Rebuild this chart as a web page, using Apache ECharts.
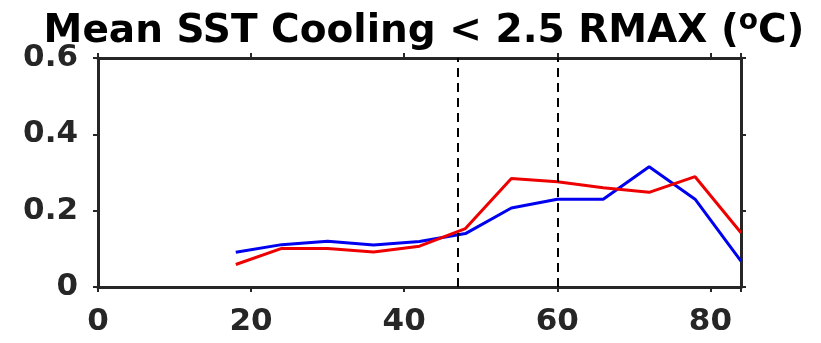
<!DOCTYPE html>
<html><head><meta charset="utf-8">
<script src="https://cdn.jsdelivr.net/npm/echarts@6/dist/echarts.min.js"></script>
<style>html,body{margin:0;padding:0;background:#fff}#c{width:821px;height:343px}</style>
</head><body><div id="c"></div>
<script>
const xValues = [18, 24, 30, 36, 42, 48, 54, 60, 66, 72, 78, 84];
const blueValues = [0.091, 0.111, 0.120, 0.110, 0.119, 0.140, 0.207, 0.230, 0.230, 0.315, 0.230, 0.068];
const redValues = [0.059, 0.101, 0.101, 0.092, 0.107, 0.153, 0.284, 0.276, 0.260, 0.248, 0.289, 0.142];
const dashedX = [47, 60];
const xTicks = [0, 20, 40, 60, 80];
const yTicks = [0, 0.2, 0.4, 0.6];

const chart = echarts.init(document.getElementById('c'), null, {renderer: 'canvas'});
const axisCol = '#262626';
const labelFont = {color: axisCol, fontFamily: 'DejaVu Sans', fontWeight: 'bold', fontSize: 31};
const baseX = {
  type: 'value', min: 0, max: 84, interval: 20,
  axisLine: {show: true, onZero: false, lineStyle: {color: axisCol, width: 3}},
  axisTick: {show: true, length: 5, lineStyle: {color: axisCol, width: 2}},
  splitLine: {show: false}
};
const baseY = {
  type: 'value', min: 0, max: 0.6, interval: 0.2,
  axisLine: {show: true, onZero: false, lineStyle: {color: axisCol, width: 3}},
  axisTick: {show: true, length: 5, lineStyle: {color: axisCol, width: 2}},
  splitLine: {show: false}
};
chart.setOption({
  animation: false,
  title: {
    text: 'Mean SST Cooling < 2.5 RMAX ({sup|o}C)',
    left: 419, top: 3, textAlign: 'center',
    textStyle: {
      fontFamily: 'DejaVu Sans', fontWeight: 'bold', fontSize: 39, lineHeight: 48, color: '#000',
      rich: {sup: {fontFamily: 'DejaVu Sans', fontWeight: 'bold', fontSize: 28, lineHeight: 28, color: '#000', verticalAlign: 'top'}}
    }
  },
  grid: {left: 98, right: 80, top: 58, bottom: 56, containLabel: false},
  xAxis: [
    Object.assign({}, baseX, {position: 'bottom', axisLabel: Object.assign({margin: 19, formatter: v => xTicks.includes(v) ? String(v) : ''}, labelFont)}),
    Object.assign({}, baseX, {position: 'top', axisLabel: {show: false}})
  ],
  yAxis: [
    Object.assign({}, baseY, {position: 'left', axisLabel: Object.assign({margin: 20, formatter: v => {const t = yTicks.find(y => Math.abs(y - v) < 1e-9); return t === undefined ? '' : (t === 0 ? '0' : t.toFixed(1));}}, labelFont)}),
    Object.assign({}, baseY, {position: 'right', axisLabel: {show: false}})
  ],
  series: [
    {
      type: 'line', name: 'blue', data: xValues.map((x, i) => [x, blueValues[i]]),
      symbol: 'none', lineStyle: {color: '#0000f0', width: 3}, z: 3,
      markLine: {
        silent: true, symbol: 'none', label: {show: false},
        lineStyle: {color: '#000', type: [9, 6], width: 2},
        data: dashedX.map(x => ({xAxis: x}))
      }
    },
    {
      type: 'line', name: 'red', data: xValues.map((x, i) => [x, redValues[i]]),
      symbol: 'none', lineStyle: {color: '#ee0000', width: 3}, z: 4
    }
  ]
});
</script></body></html>
